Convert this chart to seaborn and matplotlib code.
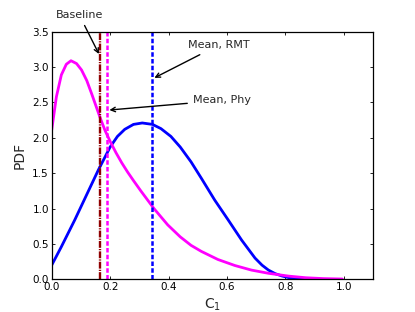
import matplotlib
matplotlib.use("Agg")
import matplotlib.pyplot as plt
import seaborn as sns
import pandas as pd

# ---- data ----
phy_x = [0.0, 0.016, 0.033, 0.05, 0.066, 0.085, 0.102, 0.12, 0.137, 0.152, 0.167,
         0.183, 0.2, 0.22, 0.24, 0.26, 0.28, 0.305, 0.35, 0.397, 0.44, 0.477,
         0.512, 0.569, 0.627, 0.684, 0.742, 0.811, 0.87, 0.93, 0.995]
phy_y = [2.11, 2.58, 2.89, 3.04, 3.09, 3.05, 2.96, 2.81, 2.62, 2.445, 2.27,
         2.1, 1.95, 1.79, 1.645, 1.515, 1.395, 1.25, 1.0, 0.77, 0.60, 0.48,
         0.395, 0.28, 0.195, 0.13, 0.085, 0.045, 0.022, 0.01, 0.004]

rmt_x = [0.0, 0.033, 0.079, 0.119, 0.159, 0.2, 0.225, 0.25, 0.28, 0.31, 0.345,
         0.374, 0.408, 0.44, 0.477, 0.512, 0.558, 0.604, 0.65, 0.696, 0.72,
         0.742, 0.765, 0.788, 0.82, 0.857, 0.875]
rmt_y = [0.20, 0.46, 0.84, 1.19, 1.54, 1.87, 2.02, 2.12, 2.19, 2.21, 2.19,
         2.13, 2.02, 1.87, 1.66, 1.43, 1.12, 0.84, 0.555, 0.30, 0.20,
         0.13, 0.08, 0.047, 0.015, 0.0, 0.0]

baseline_x = 0.166
mean_phy_x = 0.188
mean_rmt_x = 0.343

x_ticks = [0.0, 0.2, 0.4, 0.6, 0.8, 1.0]
y_ticks = [0.0, 0.5, 1.0, 1.5, 2.0, 2.5, 3.0, 3.5]

df_phy = pd.DataFrame({"x": phy_x, "y": phy_y})
df_rmt = pd.DataFrame({"x": rmt_x, "y": rmt_y})

sns.set_style("ticks")
plt.rcParams["font.family"] = ["DejaVu Sans"]
plt.rcParams["mathtext.fontset"] = "dejavusans"

fig = plt.figure(figsize=(4.15, 3.12), dpi=100)
ax = fig.add_axes([0.1246, 0.1048, 0.7743, 0.7935])

sns.lineplot(data=df_rmt, x="x", y="y", ax=ax, color="#0000ff", lw=2, sort=False)
sns.lineplot(data=df_phy, x="x", y="y", ax=ax, color="#ff00ff", lw=2, sort=False)

ax.axvline(baseline_x, color="#900000", lw=1.7, dashes=(2.9, 0.5, 0.5, 0.5))
ax.axvline(mean_phy_x, color="#ff00ff", lw=1.8, dashes=(1.8, 0.9))
ax.axvline(mean_rmt_x, color="#0000ff", lw=1.8, dashes=(1.8, 0.9))

arrow = dict(arrowstyle="->", color="black", lw=1)
ax.annotate("Baseline", xy=(baseline_x, 3.15), xytext=(0.094, 3.74),
            ha="center", va="center", fontsize=8, arrowprops=arrow,
            annotation_clip=False)
ax.annotate("Mean, RMT", xy=(mean_rmt_x, 2.83), xytext=(0.571, 3.31),
            ha="center", va="center", fontsize=8, arrowprops=arrow)
ax.annotate("Mean, Phy", xy=(mean_phy_x, 2.39), xytext=(0.584, 2.53),
            ha="center", va="center", fontsize=8, arrowprops=arrow)

ax.set_xlim(0, 1.1)
ax.set_ylim(0, 3.5)
ax.set_xticks(x_ticks)
ax.set_yticks(y_ticks)
ax.set_xticklabels([f"{v:.1f}" for v in x_ticks])
ax.set_yticklabels([f"{v:.1f}" for v in y_ticks])
ax.tick_params(direction="in", top=True, right=True, length=2.5, width=0.6,
               labelsize=7.5, pad=2, colors="black")
for s in ax.spines.values():
    s.set_visible(True)
    s.set_color("black")
    s.set_linewidth(0.9)

ax.set_xlabel("C$_1$", fontsize=10, labelpad=3)
ax.set_ylabel("PDF", fontsize=10, labelpad=4)

fig.savefig("out.png", dpi=100, facecolor="white")
